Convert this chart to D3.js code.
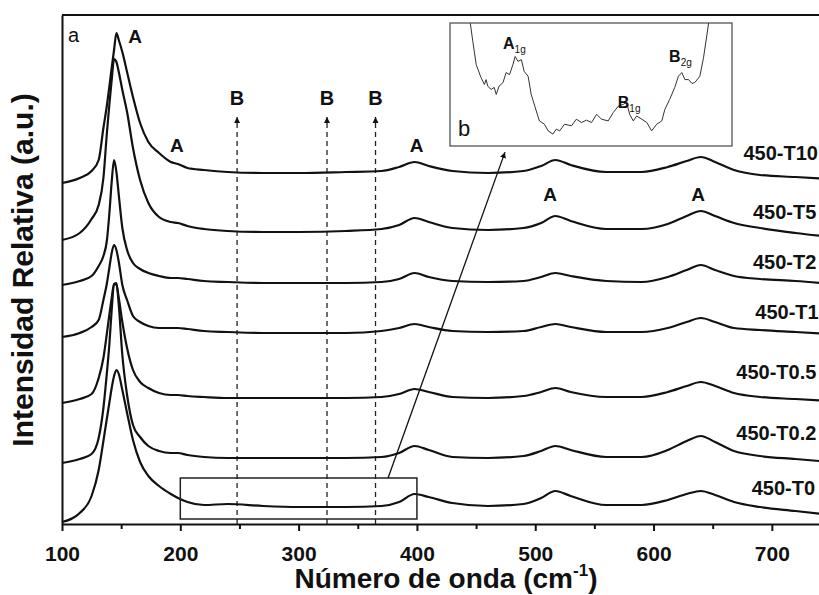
<!DOCTYPE html>
<html>
<head>
<meta charset="utf-8">
<script src="https://cdn.jsdelivr.net/npm/d3@7/dist/d3.min.js"></script>
<style>
    body { margin: 0; background: #fff; }
    #chart { width: 819px; height: 595px; overflow: hidden; }
    svg text { font-family: "Liberation Sans", Arial, Helvetica, sans-serif; fill: #111; }
</style>
</head>
<body>
<div id="chart"></div>
<script>

// Raman shift (cm-1) sampled for every spectrum
const wavenumbers = [100, 115, 125, 131, 135, 138, 140, 142, 144, 146, 148, 151, 155, 160, 166, 173, 182, 192, 198, 206,
    220, 240, 270, 300, 340, 370, 385, 398, 410, 430, 460, 490, 505, 517, 530, 560, 590, 612, 628, 640,
    652, 668, 690, 720, 750];

// stacked intensities (a.u.), top spectrum first
const seriesNames = ["450-T10", "450-T5", "450-T2", "450-T1", "450-T0.5", "450-T0.2", "450-T0"];

const intT10 = [341, 346, 353, 364, 396, 419, 437, 456, 474, 491, 484, 472, 452, 427, 401, 382, 371, 362, 360, 356,
    354, 352, 351, 351, 352, 353, 357, 362, 358, 353, 351, 353, 358, 364, 359, 352, 352, 357, 363, 367,
    362, 354, 349, 347, 345];
const intT5 = [284, 291, 305, 319, 346, 392, 419, 444, 465, 462, 452, 434, 412, 376, 344, 321, 307, 302, 301, 298,
    295, 293, 292, 292, 293, 295, 299, 306, 302, 296, 294, 296, 301, 308, 303, 295, 295, 300, 308, 313,
    308, 301, 296, 291, 287];
const intT2 = [239, 243, 248, 258, 268, 284, 310, 342, 364, 352, 329, 296, 274, 261, 255, 251, 248, 246, 246, 245,
    243, 242, 241, 241, 241, 242, 245, 251, 247, 243, 242, 243, 247, 251, 248, 243, 242, 247, 254, 259,
    254, 248, 245, 243, 240];
const intT1 = [187, 191, 197, 204, 224, 241, 256, 271, 279, 274, 262, 239, 224, 208, 202, 198, 196, 196, 196, 195,
    193, 192, 191, 191, 191, 193, 196, 200, 197, 193, 192, 193, 197, 200, 197, 192, 192, 196, 202, 206,
    202, 196, 194, 192, 190];
const intT05 = [121, 125, 130, 146, 166, 191, 209, 226, 240, 239, 226, 202, 176, 154, 142, 136, 131, 129, 129, 128,
    127, 126, 126, 126, 126, 127, 130, 135, 132, 127, 126, 128, 132, 136, 132, 127, 127, 132, 138, 142,
    138, 131, 127, 125, 123];
const intT02 = [61, 65, 70, 86, 116, 152, 179, 214, 240, 241, 219, 169, 129, 99, 87, 78, 73, 71, 71, 69,
    67, 66, 66, 66, 66, 67, 71, 78, 74, 67, 66, 68, 73, 78, 74, 67, 67, 74, 83, 88,
    82, 73, 68, 65, 62];
const intT0 = [2, 11, 28, 54, 83, 106, 121, 136, 148, 154, 150, 134, 111, 84, 62, 48, 38, 30, 26, 22,
    19, 20, 18, 17, 17, 18, 22, 30, 27, 21, 18, 20, 26, 33, 28, 19, 19, 24, 30, 33,
    29, 22, 17, 13, 9];

// where each spectrum name is written (cm-1, a.u.)
const seriesLabelX = [676, 684, 684, 686, 670, 670, 683];
const seriesLabelY = [364, 305, 255, 205, 145, 84, 29];

// axis ticks
const xTicks = [100, 200, 300, 400, 500, 600, 700];
const xMinorTicks = [150, 250, 350, 450, 550, 650, 750];

// peak annotations
const peakLabelX = [161.7, 197, 399.8, 512.5, 637.6];
const peakLabelY = [481, 372, 372, 323, 323];
const bandPositions = [248, 324, 365];   // dashed "B" markers

// zoomed region shown in inset b
const zoomRange = [200, 400];
const zoomIntensity = [5, 46];

// inset b trace (relative units 0-100 inside the inset frame)
const insetU = [7.2, 8.1, 9.3, 11.0, 12.2, 12.8, 13.4, 14.6, 15.7, 16.4, 17.4, 18.8, 19.9, 21.1, 22.3, 23.1, 24.1, 25.3, 26.3, 27.7,
    28.8, 30.6, 31.7, 33.5, 34.8, 36.5, 37.7, 38.9, 40.6, 43.1, 44.8, 46.6, 48.4, 50.2, 52.0, 53.7, 56.1, 57.9, 59.7, 61.5,
    62.6, 63.7, 65.0, 66.2, 68.0, 69.8, 71.5, 73.3, 75.1, 76.2, 77.9, 79.7, 81.0, 82.2, 83.3, 84.6, 85.8, 86.8, 88.6, 89.9,
    91.1, 91.7];
const insetV = [99.8, 84.9, 66.1, 55.6, 50.0, 54.0, 48.6, 46.0, 47.6, 41.9, 48.6, 51.6, 59.7, 58.0, 66.1, 72.8, 68.8, 70.2, 60.7, 56.7,
    41.9, 28.5, 20.4, 17.7, 12.3, 9.7, 13.7, 12.3, 17.7, 16.4, 21.8, 19.1, 21.0, 19.1, 25.8, 21.8, 20.4, 27.2, 32.5, 33.9,
    35.5, 25.8, 20.4, 24.4, 21.8, 19.1, 12.3, 17.7, 20.4, 29.8, 37.9, 47.6, 56.7, 59.7, 54.0, 54.0, 50.8, 51.6, 56.7, 71.8,
    90.3, 100];
const insetLabels = [
    {main: "A", sub: "1g", u: 18.8, v: 79},
    {main: "B", sub: "1g", u: 59.5, v: 31},
    {main: "B", sub: "2g", u: 77.7, v: 68}
];


class ramanVis {

    constructor(parentElement) {
        this.parentElement = parentElement;
        this.spectra = [intT10, intT5, intT2, intT1, intT05, intT02, intT0].map((vals, i) => ({
            name: seriesNames[i],
            labelX: seriesLabelX[i],
            labelY: seriesLabelY[i],
            values: wavenumbers.map((w, j) => ({w: w, v: vals[j]}))
        }));
        this.initVis();
    }

    initVis() {
        let vis = this;
        vis.width = 819;
        vis.height = 595;

        vis.svg = d3.select('#' + vis.parentElement).append("svg")
            .attr("width", vis.width)
            .attr("height", vis.height);

        vis.x = d3.scaleLinear().domain([100, 750]).range([62, 831]);
        vis.y = d3.scaleLinear().domain([0, 509]).range([524, 15]);

        let defs = vis.svg.append("defs");
        defs.append("marker")
            .attr("id", "head")
            .attr("viewBox", "0 0 10 10")
            .attr("refX", 10).attr("refY", 5)
            .attr("markerWidth", 6).attr("markerHeight", 9)
            .attr("markerUnits", "userSpaceOnUse")
            .attr("orient", "auto")
            .append("path")
            .attr("d", "M0,0 L10,5 L0,10 Z")
            .attr("fill", "#111");

        vis.updateVis();
    }

    updateVis() {
        let vis = this;

        // frame: top and left border
        vis.svg.append("line")
            .attr("x1", vis.x(100)).attr("x2", vis.x(750))
            .attr("y1", vis.y(509)).attr("y2", vis.y(509))
            .attr("stroke", "#111").attr("stroke-width", 2);

        vis.svg.append("g")
            .attr("transform", "translate(" + vis.x(100) + ",0)")
            .call(d3.axisLeft(vis.y).tickValues([]).tickSizeOuter(0))
            .select(".domain").attr("stroke", "#111").attr("stroke-width", 2);

        // minor ticks
        vis.svg.append("g")
            .attr("transform", "translate(0," + vis.y(0) + ")")
            .call(d3.axisBottom(vis.x).tickValues(xMinorTicks).tickSize(5).tickSizeOuter(0).tickFormat(""))
            .call(g => g.select(".domain").remove())
            .selectAll("line").attr("stroke", "#111").attr("stroke-width", 2);

        // major ticks + labels
        let xAxis = vis.svg.append("g")
            .attr("transform", "translate(0," + vis.y(0) + ")")
            .call(d3.axisBottom(vis.x).tickValues(xTicks).tickSize(7).tickSizeOuter(0).tickPadding(15));
        xAxis.select(".domain").attr("stroke", "#111").attr("stroke-width", 2);
        xAxis.selectAll("line").attr("stroke", "#111").attr("stroke-width", 2);
        xAxis.selectAll("text")
            .style("font-size", "21px")
            .style("font-weight", "bold")
            .attr("fill", "#111");

        // axis titles
        let xTitle = vis.svg.append("text")
            .attr("x", 446).attr("y", 588)
            .attr("text-anchor", "middle")
            .style("font-size", "28px").style("font-weight", "bold");
        xTitle.append("tspan").text("Número de onda (cm");
        xTitle.append("tspan").text("-1").style("font-size", "17px").attr("dy", -12);
        xTitle.append("tspan").text(")").attr("dy", 12);

        vis.svg.append("text")
            .attr("transform", "translate(33,270) rotate(-90)")
            .attr("text-anchor", "middle")
            .style("font-size", "30px").style("font-weight", "bold")
            .text("Intensidad Relativa (a.u.)");

        // dashed B markers
        bandPositions.forEach(b => {
            vis.svg.append("line")
                .attr("x1", vis.x(b)).attr("x2", vis.x(b))
                .attr("y1", vis.y(0)).attr("y2", vis.y(407))
                .attr("stroke", "#222").attr("stroke-width", 1.3)
                .attr("stroke-dasharray", "5,4")
                .attr("marker-end", "url(#head)");
            vis.svg.append("text")
                .attr("x", vis.x(b)).attr("y", vis.y(419))
                .attr("text-anchor", "middle")
                .style("font-size", "20px").style("font-weight", "bold")
                .text("B");
        });

        // spectra
        let line = d3.line()
            .x(d => vis.x(d.w))
            .y(d => vis.y(d.v))
            .curve(d3.curveMonotoneX);

        vis.svg.selectAll(".spectrum")
            .data(vis.spectra)
            .enter()
            .append("path")
            .attr("class", "spectrum")
            .attr("d", d => line(d.values))
            .attr("fill", "none")
            .attr("stroke", "#111")
            .attr("stroke-width", 2.2)
            .attr("stroke-linejoin", "round");

        // spectrum names, kept inside the page
        vis.svg.selectAll(".spec-label")
            .data(vis.spectra)
            .enter()
            .append("text")
            .attr("class", "spec-label")
            .attr("x", d => vis.x(d.labelX))
            .attr("y", d => vis.y(d.labelY))
            .style("font-size", "20px").style("font-weight", "bold")
            .text(d => d.name);

        // A peak labels
        peakLabelX.forEach((px, i) => {
            vis.svg.append("text")
                .attr("x", vis.x(px)).attr("y", vis.y(peakLabelY[i]))
                .attr("text-anchor", "middle")
                .style("font-size", "19px").style("font-weight", "bold")
                .text("A");
        });

        vis.svg.append("text")
            .attr("x", 68).attr("y", 42)
            .style("font-size", "20px")
            .text("a");

        // zoom box on the lowest spectrum
        vis.svg.append("rect")
            .attr("x", vis.x(zoomRange[0]))
            .attr("y", vis.y(zoomIntensity[1]))
            .attr("width", vis.x(zoomRange[1]) - vis.x(zoomRange[0]))
            .attr("height", vis.y(zoomIntensity[0]) - vis.y(zoomIntensity[1]))
            .attr("fill", "none").attr("stroke", "#222").attr("stroke-width", 1.5);

        vis.drawInset();
    }

    drawInset() {
        let vis = this;
        let ix = d3.scaleLinear().domain([0, 100]).range([450, 732]);
        let iy = d3.scaleLinear().domain([0, 100]).range([146, 23]);

        let inset = vis.svg.append("g").attr("class", "inset");

        inset.append("rect")
            .attr("x", ix(0)).attr("y", iy(100))
            .attr("width", ix(100) - ix(0)).attr("height", iy(0) - iy(100))
            .attr("fill", "#fff").attr("stroke", "#555").attr("stroke-width", 1.3);

        let trace = insetU.map((u, i) => [ix(u), iy(insetV[i])]);
        inset.append("path")
            .attr("d", d3.line()(trace))
            .attr("fill", "none")
            .attr("stroke", "#333")
            .attr("stroke-width", 1);

        insetLabels.forEach(l => {
            let t = inset.append("text")
                .attr("x", ix(l.u)).attr("y", iy(l.v))
                .style("font-size", "16px").style("font-weight", "bold");
            t.append("tspan").text(l.main);
            t.append("tspan").text(l.sub)
                .style("font-size", "10px").style("font-weight", "normal")
                .attr("dy", 4);
        });

        inset.append("text")
            .attr("x", 458).attr("y", 136)
            .style("font-size", "22px")
            .attr("fill", "#333")
            .text("b");

        // arrow from zoom box to inset
        vis.svg.append("line")
            .attr("x1", vis.x(375.6)).attr("y1", vis.y(zoomIntensity[1]))
            .attr("x2", ix(19.5)).attr("y2", iy(-5))
            .attr("stroke", "#111").attr("stroke-width", 1.3)
            .attr("marker-end", "url(#head)");
    }
}

new ramanVis("chart");
</script>
</body>
</html>
